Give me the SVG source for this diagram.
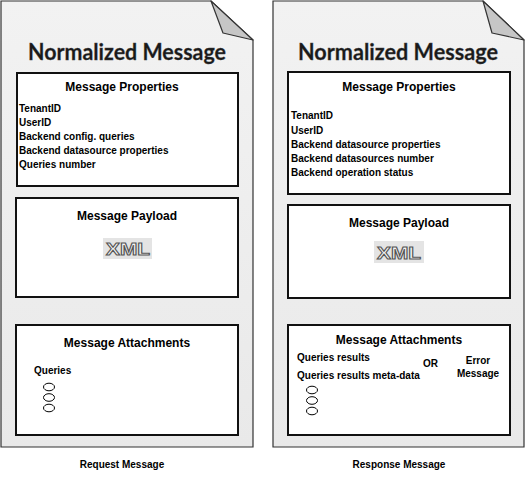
<svg xmlns="http://www.w3.org/2000/svg" width="525" height="478" viewBox="0 0 525 478">
<defs>
<linearGradient id="docg" x1="0" y1="0" x2="0" y2="1">
<stop offset="0" stop-color="#f2f2f2"/>
<stop offset="1" stop-color="#e9e9e9"/>
</linearGradient>
<style>
.doc{fill:url(#docg);stroke:#333;stroke-width:1.2}
.fold{fill:#c6c6c6;stroke:#333;stroke-width:1.2;stroke-linejoin:round}
.title{font-family:Lato,"Open Sans","Liberation Sans",sans-serif;font-weight:bold;font-size:23px;fill:#1a1a1a;stroke:#444;stroke-width:0.3}
.box{fill:#fff;stroke:#111;stroke-width:2}
.bt{font-family:"Liberation Sans",Arial,sans-serif;font-weight:bold;font-size:12px;fill:#000;text-anchor:middle}
.it{font-family:"Liberation Sans",Arial,sans-serif;font-weight:bold;font-size:10px;fill:#000}
.cap{font-family:"Liberation Sans",Arial,sans-serif;font-weight:bold;font-size:10px;fill:#000;text-anchor:middle}
.xmlbg{fill:#e4e4e4}
.xml{font-family:"Liberation Sans",Arial,sans-serif;font-weight:bold;font-size:17px;fill:#f4f4f4;stroke:#555;stroke-width:1}
.ell{fill:#fff;stroke:#000;stroke-width:1}
</style>
</defs>

<g id="request">
<path class="doc" d="M1,1 H211 L253,40 V447 H1 Z"/>
<path class="fold" d="M211,1 L223,33 L253,40 Z"/>
<text class="title" x="28" y="60" textLength="198" lengthAdjust="spacingAndGlyphs">Normalized Message</text>
<g id="req-props">
<rect class="box" x="17" y="73" width="221" height="113"/>
<text class="bt" x="122" y="91">Message Properties</text>
<text class="it" x="19" y="112">TenantID</text>
<text class="it" x="19" y="126">UserID</text>
<text class="it" x="19" y="140">Backend config. queries</text>
<text class="it" x="19" y="154">Backend datasource properties</text>
<text class="it" x="19" y="168">Queries number</text>
</g>
<g id="req-payload">
<rect class="box" x="16" y="198" width="222" height="99"/>
<text class="bt" x="127" y="220">Message Payload</text>
<rect class="xmlbg" x="103" y="238" width="49" height="21"/>
<text class="xml" x="106" y="255" textLength="44" lengthAdjust="spacingAndGlyphs">XML</text>
</g>
<g id="req-attach">
<rect class="box" x="16" y="325" width="222" height="110"/>
<text class="bt" x="127" y="347">Message Attachments</text>
<text class="it" x="34" y="374">Queries</text>
<ellipse class="ell" cx="49" cy="387" rx="5.5" ry="3.8"/>
<ellipse class="ell" cx="49" cy="397.5" rx="5.5" ry="3.8"/>
<ellipse class="ell" cx="49" cy="408" rx="5.5" ry="3.8"/>
</g>
<text class="cap" x="122" y="468">Request Message</text>
</g>

<g id="response">
<path class="doc" d="M273,1 H483 L524,40 V447 H273 Z"/>
<path class="fold" d="M483,1 L492,33 L524,40 Z"/>
<text class="title" x="298" y="60" textLength="200" lengthAdjust="spacingAndGlyphs">Normalized Message</text>
<g id="resp-props">
<rect class="box" x="288" y="72" width="222" height="122"/>
<text class="bt" x="399" y="91">Message Properties</text>
<text class="it" x="291" y="119">TenantID</text>
<text class="it" x="291" y="134">UserID</text>
<text class="it" x="291" y="148">Backend datasource properties</text>
<text class="it" x="291" y="162">Backend datasources number</text>
<text class="it" x="291" y="176">Backend operation status</text>
</g>
<g id="resp-payload">
<rect class="box" x="288" y="205" width="222" height="93"/>
<text class="bt" x="399" y="227">Message Payload</text>
<rect class="xmlbg" x="374" y="241" width="50" height="22"/>
<text class="xml" x="377" y="259" textLength="44" lengthAdjust="spacingAndGlyphs">XML</text>
</g>
<g id="resp-attach">
<rect class="box" x="288" y="325" width="222" height="110"/>
<text class="bt" x="399" y="344">Message Attachments</text>
<text class="it" x="297" y="361">Queries results</text>
<text class="it" x="297" y="379">Queries results meta-data</text>
<text class="it" x="423" y="367">OR</text>
<text class="cap" x="478" y="364">Error</text>
<text class="cap" x="478" y="377">Message</text>
<ellipse class="ell" cx="312" cy="390" rx="5.5" ry="3.8"/>
<ellipse class="ell" cx="312" cy="400.5" rx="5.5" ry="3.8"/>
<ellipse class="ell" cx="312" cy="411" rx="5.5" ry="3.8"/>
</g>
<text class="cap" x="399" y="468">Response Message</text>
</g>

<g id="connectors"/>
</svg>
